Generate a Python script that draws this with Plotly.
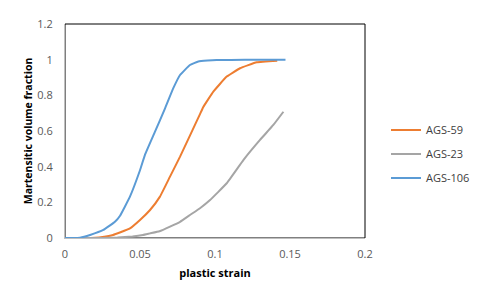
import plotly.graph_objects as go

# AGS-59 (orange)
x_59 = [0, 0.015, 0.02, 0.025, 0.032, 0.037, 0.0433, 0.05, 0.0567, 0.0633, 0.07,
        0.0767, 0.085, 0.09, 0.0922, 0.0989, 0.1078, 0.1167, 0.1278, 0.1415]
y_59 = [0, 0, 0.002, 0.006, 0.017, 0.032, 0.054, 0.101, 0.157, 0.232, 0.344,
        0.456, 0.605, 0.695, 0.735, 0.821, 0.905, 0.952, 0.985, 0.994]

# AGS-23 (gray)
x_23 = [0, 0.025, 0.035, 0.045, 0.052, 0.0567, 0.063, 0.07, 0.0767, 0.0833, 0.09, 0.0967,
        0.1078, 0.1189, 0.13, 0.1389, 0.1456]
y_23 = [0, 0, 0.003, 0.009, 0.017, 0.026, 0.038, 0.064, 0.091, 0.129, 0.167, 0.213,
        0.307, 0.437, 0.55, 0.634, 0.708]

# AGS-106 (blue)
x_106 = [0, 0.005, 0.01, 0.0167, 0.0256, 0.0333, 0.0367, 0.0433, 0.05, 0.0533, 0.06,
         0.0667, 0.0722, 0.0767, 0.0833, 0.0889, 0.095, 0.101, 0.12, 0.147]
y_106 = [0, 0, 0.002, 0.017, 0.045, 0.091, 0.125, 0.232, 0.38, 0.466, 0.596,
         0.727, 0.84, 0.914, 0.970, 0.99, 0.995, 0.998, 0.999, 1.0]

x_ticks = [0, 0.05, 0.1, 0.15, 0.2]
x_tick_text = ["0", "0.05", "0.1", "0.15", "0.2"]
y_ticks = [0, 0.2, 0.4, 0.6, 0.8, 1, 1.2]
y_tick_text = ["0", "0.2", "0.4", "0.6", "0.8", "1", "1.2"]

series = [
    ("AGS-59", x_59, y_59, "#ED7D31"),
    ("AGS-23", x_23, y_23, "#A5A5A5"),
    ("AGS-106", x_106, y_106, "#5B9BD5"),
]

fig = go.Figure()
for name, xs, ys, col in series:
    fig.add_trace(go.Scatter(x=xs, y=ys, mode="lines", name=name, legendgroup=name,
                             line=dict(color=col, width=2, shape="spline", smoothing=0.3)))

font_family = "Open Sans"
fig.update_layout(
    width=490, height=294,
    margin=dict(l=65, r=125, t=24, b=56),
    paper_bgcolor="white", plot_bgcolor="white",
    font=dict(family=font_family, size=11, color="#595959"),
    showlegend=True,
    legend=dict(x=1.07, y=0.393, xanchor="left", yanchor="middle",
                font=dict(family=font_family, size=11, color="#404040"),
                tracegroupgap=5, itemwidth=30, bgcolor="rgba(0,0,0,0)"),
    xaxis=dict(range=[0, 0.2], tickvals=x_ticks, ticktext=x_tick_text,
               showgrid=False, zeroline=False, showline=True, linecolor="#BFBFBF",
               linewidth=1, ticks="", ticklabelstandoff=6,
               title=dict(text="<b>plastic strain</b>", standoff=9,
                          font=dict(family=font_family, size=11, color="black"))),
    yaxis=dict(range=[0, 1.2], tickvals=y_ticks, ticktext=y_tick_text,
               showgrid=False, zeroline=False, showline=True, linecolor="#BFBFBF",
               linewidth=1, ticks="", ticklabelstandoff=9,
               title=dict(text="<b>Martensitic volume fraction</b>", standoff=2,
                          font=dict(family=font_family, size=10.5, color="black"))),
    shapes=[dict(type="rect", xref="paper", yref="paper", x0=0, x1=1, y0=0, y1=1,
                 line=dict(color="black", width=1), layer="below")],
)

fig.write_html("out.html")
